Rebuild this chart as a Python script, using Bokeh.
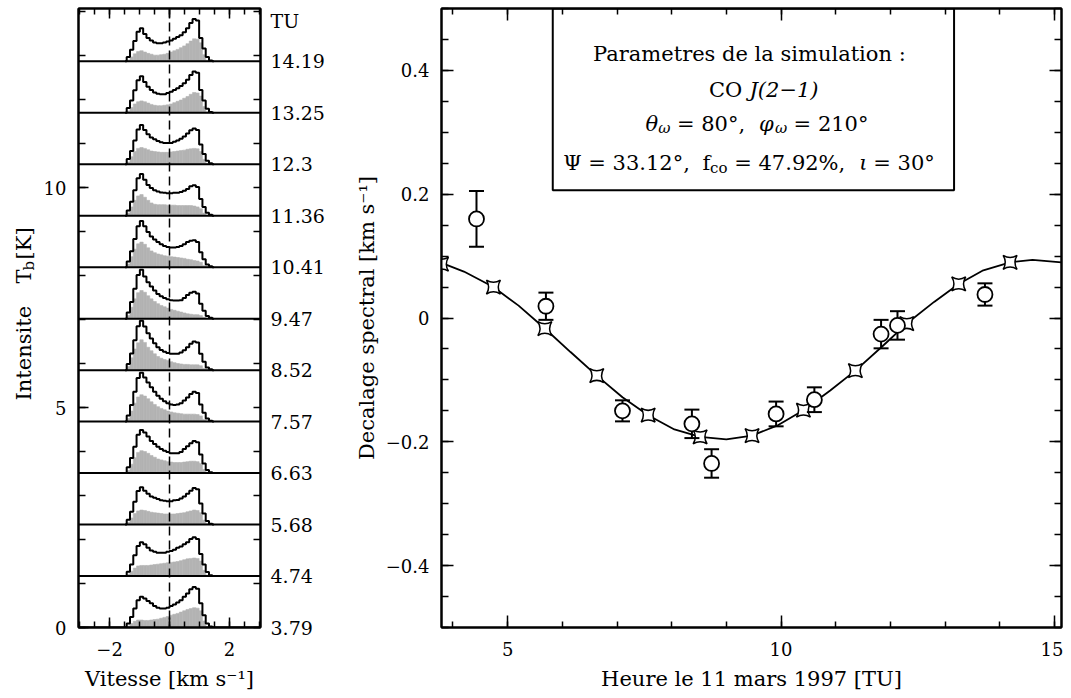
import numpy as np
from bokeh.plotting import figure
from bokeh.layouts import row
from bokeh.models import (FixedTicker, LinearAxis, Span, Label, BoxAnnotation, Range1d,
                          CustomLabelingPolicy)
from bokeh.core.properties import value
from bokeh.embed import file_html
from bokeh.resources import INLINE

FONT = "DejaVu Serif"

# ---------------- left panel data: simulated CO J(2-1) spectra ----------------
tu_labels = ["3.79", "4.74", "5.68", "6.63", "7.57", "8.52",
             "9.47", "10.41", "11.36", "12.3", "13.25", "14.19"]
# channel centres [km/s]
chan_v = [-1.375, -1.265, -1.155, -1.045, -0.935, -0.825, -0.715, -0.605, -0.495,
          -0.385, -0.275, -0.165, -0.055, 0.055, 0.165, 0.275, 0.385, 0.495,
          0.605, 0.715, 0.825, 0.935, 1.045, 1.155, 1.265, 1.375]
chan_w = 0.11
# total profile (black step line), bottom (3.79) to top (14.19), in K
black_tb = [
    [0.09, 0.24, 0.43, 0.62, 0.70, 0.66, 0.60, 0.55, 0.49, 0.45, 0.43, 0.43, 0.45, 0.49, 0.52, 0.57, 0.62, 0.70, 0.77, 0.87, 0.92, 0.88, 0.55, 0.28, 0.09, 0.02],
    [0.10, 0.26, 0.47, 0.68, 0.77, 0.72, 0.64, 0.58, 0.55, 0.53, 0.53, 0.53, 0.55, 0.57, 0.60, 0.64, 0.67, 0.72, 0.77, 0.84, 0.88, 0.84, 0.50, 0.26, 0.09, 0.02],
    [0.11, 0.29, 0.52, 0.76, 0.85, 0.77, 0.70, 0.64, 0.61, 0.58, 0.55, 0.54, 0.53, 0.53, 0.55, 0.56, 0.59, 0.64, 0.70, 0.77, 0.83, 0.80, 0.48, 0.25, 0.08, 0.02],
    [0.13, 0.34, 0.60, 0.87, 0.98, 0.92, 0.83, 0.73, 0.66, 0.60, 0.55, 0.51, 0.48, 0.45, 0.45, 0.45, 0.48, 0.55, 0.61, 0.68, 0.73, 0.70, 0.42, 0.22, 0.07, 0.02],
    [0.14, 0.38, 0.68, 0.99, 1.11, 1.00, 0.89, 0.78, 0.68, 0.59, 0.52, 0.46, 0.42, 0.39, 0.38, 0.39, 0.42, 0.48, 0.55, 0.63, 0.68, 0.65, 0.39, 0.20, 0.07, 0.02],
    [0.14, 0.38, 0.68, 1.00, 1.12, 0.99, 0.84, 0.72, 0.61, 0.52, 0.46, 0.42, 0.39, 0.37, 0.37, 0.37, 0.40, 0.45, 0.52, 0.60, 0.65, 0.63, 0.37, 0.19, 0.06, 0.02],
    [0.14, 0.38, 0.68, 0.99, 1.11, 0.96, 0.83, 0.73, 0.64, 0.56, 0.51, 0.47, 0.44, 0.42, 0.41, 0.41, 0.42, 0.47, 0.54, 0.59, 0.61, 0.57, 0.34, 0.18, 0.06, 0.02],
    [0.13, 0.36, 0.64, 0.93, 1.05, 0.93, 0.80, 0.70, 0.63, 0.57, 0.52, 0.48, 0.46, 0.45, 0.45, 0.46, 0.48, 0.52, 0.57, 0.60, 0.61, 0.57, 0.34, 0.18, 0.06, 0.02],
    [0.12, 0.32, 0.58, 0.85, 0.95, 0.82, 0.70, 0.63, 0.58, 0.55, 0.53, 0.52, 0.51, 0.51, 0.52, 0.52, 0.54, 0.57, 0.61, 0.67, 0.69, 0.65, 0.38, 0.20, 0.07, 0.02],
    [0.12, 0.30, 0.54, 0.79, 0.89, 0.78, 0.68, 0.61, 0.57, 0.53, 0.50, 0.48, 0.48, 0.48, 0.51, 0.54, 0.58, 0.63, 0.70, 0.77, 0.81, 0.78, 0.45, 0.23, 0.08, 0.02],
    [0.11, 0.28, 0.51, 0.74, 0.83, 0.70, 0.59, 0.52, 0.46, 0.43, 0.42, 0.42, 0.45, 0.48, 0.52, 0.56, 0.61, 0.67, 0.75, 0.86, 0.94, 0.91, 0.52, 0.28, 0.09, 0.02],
    [0.10, 0.26, 0.46, 0.67, 0.75, 0.62, 0.53, 0.47, 0.43, 0.41, 0.41, 0.43, 0.45, 0.47, 0.51, 0.55, 0.59, 0.66, 0.75, 0.87, 0.96, 0.93, 0.53, 0.29, 0.10, 0.02],
]
# partial contribution (grey filled), same order
gray_tb = [
    [0.03, 0.09, 0.14, 0.17, 0.17, 0.16, 0.16, 0.17, 0.18, 0.19, 0.21, 0.23, 0.25, 0.28, 0.30, 0.32, 0.35, 0.38, 0.41, 0.43, 0.45, 0.44, 0.38, 0.15, 0.02, 0.0],
    [0.04, 0.11, 0.18, 0.23, 0.24, 0.24, 0.24, 0.25, 0.26, 0.27, 0.28, 0.29, 0.30, 0.31, 0.32, 0.33, 0.35, 0.37, 0.39, 0.40, 0.41, 0.40, 0.34, 0.13, 0.02, 0.0],
    [0.05, 0.15, 0.25, 0.31, 0.33, 0.32, 0.30, 0.28, 0.27, 0.26, 0.25, 0.24, 0.24, 0.24, 0.24, 0.25, 0.26, 0.27, 0.29, 0.31, 0.33, 0.32, 0.27, 0.10, 0.02, 0.0],
    [0.06, 0.20, 0.35, 0.47, 0.51, 0.49, 0.45, 0.40, 0.36, 0.32, 0.30, 0.28, 0.26, 0.25, 0.24, 0.24, 0.24, 0.25, 0.26, 0.27, 0.27, 0.26, 0.22, 0.08, 0.02, 0.0],
    [0.07, 0.24, 0.42, 0.56, 0.61, 0.58, 0.52, 0.45, 0.39, 0.34, 0.30, 0.27, 0.24, 0.22, 0.20, 0.19, 0.18, 0.17, 0.17, 0.17, 0.17, 0.16, 0.13, 0.05, 0.01, 0.0],
    [0.08, 0.28, 0.48, 0.62, 0.69, 0.63, 0.52, 0.44, 0.37, 0.31, 0.27, 0.24, 0.22, 0.19, 0.17, 0.15, 0.14, 0.13, 0.13, 0.12, 0.12, 0.12, 0.10, 0.04, 0.01, 0.0],
    [0.07, 0.26, 0.45, 0.59, 0.64, 0.60, 0.52, 0.45, 0.39, 0.34, 0.30, 0.27, 0.24, 0.21, 0.19, 0.17, 0.15, 0.13, 0.11, 0.10, 0.09, 0.09, 0.07, 0.03, 0.01, 0.0],
    [0.07, 0.24, 0.41, 0.53, 0.57, 0.52, 0.44, 0.37, 0.33, 0.30, 0.28, 0.26, 0.25, 0.24, 0.23, 0.22, 0.21, 0.20, 0.18, 0.17, 0.15, 0.14, 0.11, 0.04, 0.01, 0.0],
    [0.06, 0.20, 0.35, 0.45, 0.48, 0.42, 0.35, 0.29, 0.26, 0.25, 0.25, 0.25, 0.24, 0.24, 0.24, 0.23, 0.23, 0.23, 0.23, 0.23, 0.22, 0.20, 0.16, 0.06, 0.01, 0.0],
    [0.05, 0.17, 0.29, 0.36, 0.38, 0.36, 0.33, 0.30, 0.29, 0.28, 0.27, 0.27, 0.27, 0.28, 0.29, 0.30, 0.31, 0.32, 0.34, 0.35, 0.36, 0.35, 0.29, 0.11, 0.02, 0.0],
    [0.04, 0.12, 0.20, 0.25, 0.27, 0.25, 0.22, 0.19, 0.17, 0.16, 0.16, 0.17, 0.18, 0.20, 0.23, 0.26, 0.29, 0.33, 0.37, 0.42, 0.46, 0.45, 0.38, 0.14, 0.02, 0.0],
    [0.03, 0.10, 0.17, 0.22, 0.24, 0.21, 0.18, 0.16, 0.14, 0.14, 0.15, 0.16, 0.18, 0.21, 0.24, 0.27, 0.31, 0.35, 0.40, 0.46, 0.51, 0.50, 0.42, 0.15, 0.02, 0.0],
]
stack_step = 1.17  # vertical offset between successive spectra [K]

# ---------------- right panel data: spectral shift vs time ----------------
model_t = [float(t) for t in tu_labels]
model_shift = [0.087, 0.050, -0.017, -0.093, -0.157, -0.192,
               -0.190, -0.149, -0.085, -0.009, 0.055, 0.090]
curve_t = [3.79, 4.2, 4.74, 5.2, 5.68, 6.15, 6.63, 7.1, 7.57, 8.05, 8.52, 9.0, 9.47,
           9.95, 10.41, 10.9, 11.36, 11.85, 12.3, 12.8, 13.25, 13.7, 14.19, 14.6, 15.13]
curve_shift = [0.089, 0.075, 0.050, 0.020, -0.017, -0.055, -0.093, -0.128, -0.157,
               -0.180, -0.192, -0.196, -0.190, -0.173, -0.149, -0.117, -0.085, -0.046,
               -0.009, 0.026, 0.055, 0.077, 0.090, 0.094, 0.090]
obs_t = [4.43, 5.70, 7.10, 8.37, 8.73, 9.91, 10.61, 11.83, 12.13, 13.73]
obs_shift = [0.160, 0.019, -0.150, -0.171, -0.235, -0.155, -0.132, -0.026, -0.012, 0.038]
obs_err = [0.045, 0.022, 0.017, 0.023, 0.023, 0.020, 0.020, 0.023, 0.023, 0.018]

NO_LABELS = "for (const i of indices) { indices.unset(i) }\nreturn indices"


def style_axis(ax, ticks, minor, major_in, minor_in, labels=True, size="18px",
               standoff=12, overrides=None):
    ax.ticker = FixedTicker(ticks=ticks, minor_ticks=minor)
    ax.major_tick_in = major_in
    ax.major_tick_out = 0
    ax.minor_tick_in = minor_in
    ax.minor_tick_out = 0
    ax.axis_line_width = 2
    ax.major_tick_line_width = 1.5
    ax.minor_tick_line_width = 1.5
    ax.major_label_text_font = FONT
    ax.major_label_text_color = "black"
    ax.axis_label_text_font = FONT
    ax.axis_label_text_font_style = "normal"
    ax.axis_label_text_font_size = "21px"
    ax.axis_label_text_color = "black"
    if labels:
        ax.major_label_text_font_size = size
        ax.major_label_standoff = standoff
    else:
        ax.major_label_policy = CustomLabelingPolicy(code=NO_LABELS)
        ax.major_label_text_font_size = "0px"
        ax.major_label_standoff = 0
    if overrides:
        ax.major_label_overrides = overrides
    return ax


H = 698
TOP, BOTTOM = 8, H - 8 - 619      # shared frame borders (frame spans page y 8..627)

# ================= title strip for the left panel =================
# frame of this strip is aligned with the panels: y = 627 - page_y
p0 = figure(width=40, height=H, x_range=Range1d(0, 40), y_range=Range1d(0, 619),
            output_backend="svg", toolbar_location=None, title=None,
            x_axis_location=None, y_axis_location=None,
            min_border_left=0, min_border_right=0, min_border_top=TOP,
            min_border_bottom=BOTTOM)
p0.grid.visible = False
p0.outline_line_color = None
tkw = dict(angle=np.pi / 2, text_align="left", text_baseline="middle",
           text_font=value(FONT), text_color="black")
p0.text(x=[23, 23, 23], y=[627 - 400, 627 - 283, 627 - 259], text=["Intensite", "T", "[K]"],
        text_font_size=value("21px"), **tkw)
p0.text(x=[28.5], y=[627 - 270], text=["b"], text_font_size=value("15px"), **tkw)

# ================= LEFT FIGURE =================
p1 = figure(width=305, height=H, x_range=Range1d(-3.04, 3.04), y_range=Range1d(0, 14.07),
            output_backend="svg", toolbar_location=None, title=None,
            x_axis_location=None, y_axis_location=None,
            min_border_left=37, min_border_right=85, min_border_top=TOP,
            min_border_bottom=BOTTOM)
p1.grid.visible = False
p1.outline_line_color = "black"
p1.outline_line_width = 2

offsets = [round(i * stack_step, 2) for i in range(len(tu_labels))]
half = chan_w / 2
for base, bl, gr in zip(offsets, black_tb, gray_tb):
    p1.quad(left=[v - half for v in chan_v], right=[v + half for v in chan_v],
            bottom=base, top=[base + g for g in gr],
            fill_color="#b3b3b3", line_color="#b3b3b3", line_width=0.6)
    xs = [chan_v[0] - chan_w] + chan_v + [chan_v[-1] + chan_w]
    ys = [base] + [base + b for b in bl] + [base]
    p1.step(xs, ys, mode="center", line_color="black", line_width=2)
    p1.add_layout(Span(location=base, dimension="width", line_color="black", line_width=2))
p1.add_layout(Span(location=0, dimension="height", line_color="black",
                   line_width=1.5, line_dash="9 5"))

vel_minor = [-3 + 0.5 * k for k in range(13)]
int_minor = list(range(0, 15))
xb = style_axis(LinearAxis(), [-2, 0, 2], vel_minor, 10, 6, standoff=14,
                overrides={-2: "\u22122"})
xb.axis_label = "Vitesse [km s\u207b\u00b9]"
xb.axis_label_standoff = 8
p1.add_layout(xb, "below")
p1.add_layout(style_axis(LinearAxis(), [-2, 0, 2], vel_minor, 10, 6, labels=False), "above")
yl = style_axis(LinearAxis(), [0, 5, 10], int_minor, 10, 7)
p1.add_layout(yl, "left")
tu_ticks = offsets + [13.78]
tu_over = {o: lab for o, lab in zip(offsets, tu_labels)}
tu_over[13.78] = "TU"
yr = style_axis(LinearAxis(), tu_ticks, int_minor, 0, 7, size="19px", standoff=10,
                overrides=tu_over)
yr.major_tick_line_color = None
p1.add_layout(yr, "right")

# ================= RIGHT FIGURE =================
p2 = figure(width=718, height=H, x_range=Range1d(3.79, 15.13), y_range=Range1d(-0.5, 0.5),
            output_backend="svg", toolbar_location=None, title=None,
            x_axis_location=None, y_axis_location=None,
            min_border_left=96, min_border_right=2, min_border_top=TOP,
            min_border_bottom=BOTTOM)
p2.grid.visible = False
p2.outline_line_color = "black"
p2.outline_line_width = 2

p2.line(curve_t, curve_shift, line_color="black", line_width=1.8)
p2.scatter(model_t, model_shift, marker="square_pin", size=14, fill_color="white",
           line_color="black", line_width=1.5)
lo = [s - e for s, e in zip(obs_shift, obs_err)]
hi = [s + e for s, e in zip(obs_shift, obs_err)]
p2.segment(x0=obs_t, y0=lo, x1=obs_t, y1=hi, line_color="black", line_width=2)
p2.scatter(obs_t, lo, marker="dash", size=15, line_color="black", line_width=2)
p2.scatter(obs_t, hi, marker="dash", size=15, line_color="black", line_width=2)
p2.scatter(obs_t, obs_shift, marker="circle", size=15, fill_color="white",
           line_color="black", line_width=1.8)

t_minor = list(range(4, 16))
s_minor = [round(-0.5 + 0.05 * k, 2) for k in range(21)]
s_major = [-0.4, -0.2, 0, 0.2, 0.4]
xb2 = style_axis(LinearAxis(), [5, 10, 15], t_minor, 12, 6, standoff=14)
xb2.axis_label = "Heure le 11 mars 1997 [TU]"
xb2.axis_label_standoff = 8
p2.add_layout(xb2, "below")
p2.add_layout(style_axis(LinearAxis(), [5, 10, 15], t_minor, 12, 6, labels=False), "above")
yl2 = style_axis(LinearAxis(), s_major, s_minor, 12, 7,
                 overrides={-0.4: "\u22120.4", -0.2: "\u22120.2"})
yl2.axis_label = "Decalage spectral [km s\u207b\u00b9]"
yl2.axis_label_standoff = 4
p2.add_layout(yl2, "left")
p2.add_layout(style_axis(LinearAxis(), s_major, s_minor, 12, 7, labels=False), "right")

# parameter box
p2.add_layout(BoxAnnotation(left=5.825, right=13.165, bottom=0.2065, top=0.5,
                            fill_color=None, line_color="black", line_alpha=1.0,
                            line_width=2))
BOX_CX = 9.495
# (x offset px, y data, text, size, style, align)
pieces = [
    (-4.0, 0.4266, "Parametres de la simulation :", "21px", "normal", "center"),
    (-44.4, 0.368, "CO", "21px", "normal", "left"),
    (-4.0, 0.368, "J(2\u22121)", "21px", "italic", "left"),
    (-107.8, 0.3142, "\u03b8", "21px", "italic", "left"),
    (-95.2, 0.3075, "\u03c9", "15px", "italic", "left"),
    (-76.5, 0.3142, "= 80\u00b0,", "21px", "normal", "left"),
    (5.7, 0.3142, "\u03c6", "21px", "italic", "left"),
    (21.5, 0.3075, "\u03c9", "15px", "italic", "left"),
    (40.2, 0.3142, "= 210\u00b0", "21px", "normal", "left"),
    (-190.2, 0.2497, "\u03a8 = 33.12\u00b0,", "21px", "normal", "left"),
    (-51.0, 0.2497, "f", "21px", "normal", "left"),
    (-43.3, 0.2427, "co", "15px", "normal", "left"),
    (-19.2, 0.2497, "= 47.92%,", "21px", "normal", "left"),
    (105.8, 0.2497, "\u03b9", "21px", "italic", "left"),
    (119.9, 0.2497, "= 30\u00b0", "21px", "normal", "left"),
]
for dx, y, txt, fs, st, al in pieces:
    p2.add_layout(Label(x=BOX_CX, y=y, x_offset=dx, text=txt, text_font=FONT,
                        text_font_size=fs, text_font_style=st, text_color="black",
                        text_align=al, text_baseline="alphabetic"))

layout = row(p0, p1, p2)
open("out.html", "w").write(file_html(layout, INLINE))
